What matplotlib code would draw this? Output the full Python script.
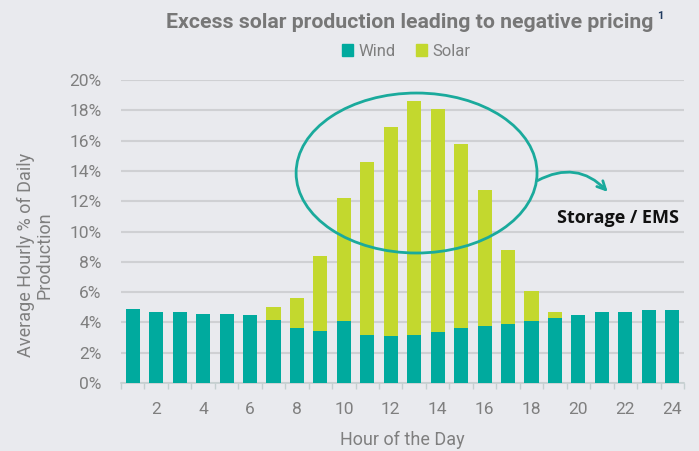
import numpy as np
import matplotlib.pyplot as plt
from matplotlib.patches import Ellipse, Patch

# Datos (% de la produccion diaria por hora)
hours = list(range(1, 25))
wind = [4.86, 4.71, 4.71, 4.58, 4.58, 4.51, 4.16, 3.61, 3.45, 4.09, 3.17, 3.10,
        3.17, 3.39, 3.61, 3.78, 3.87, 4.09, 4.31, 4.49, 4.71, 4.71, 4.84, 4.84]
total = [4.86, 4.71, 4.71, 4.58, 4.58, 4.51, 5.00, 5.59, 8.38, 12.21, 14.61, 16.90,
         18.64, 18.06, 15.78, 12.74, 8.78, 6.09, 4.71, 4.49, 4.71, 4.71, 4.84, 4.84]
solar = [t - w for t, w in zip(total, wind)]
yticks = [0, 2, 4, 6, 8, 10, 12, 14, 16, 18, 20]
xlabels = [2, 4, 6, 8, 10, 12, 14, 16, 18, 20, 22, 24]

bg = '#e9eaee'
teal = '#00aa9e'
lime = '#c3d82e'
grey = '#7f7f7f'
plt.rcParams['font.family'] = ['Roboto', 'DejaVu Sans']

fig = plt.figure(figsize=(6.99, 4.51), dpi=100, facecolor=bg)
ax = fig.add_axes([121 / 699, 68 / 451, 563 / 699, 303 / 451], facecolor=bg)

ax.bar(hours, wind, width=0.6, color=teal, zorder=3)
ax.bar(hours, solar, bottom=wind, width=0.6, color=lime, zorder=3)

ax.set_xlim(0.5, 24.5)
ax.set_ylim(0, 20)
ax.set_yticks(yticks)
ax.set_yticklabels([f'{v}%' for v in yticks], color=grey, fontsize=12.5)
ax.grid(axis='y', color='#cfd0d3', linewidth=1.5, zorder=0)
ax.tick_params(axis='y', length=0, pad=14)

# ticks en los limites de las barras, etiquetas en las horas pares
ax.set_xticks(np.arange(0.5, 25, 1))
ax.set_xticklabels([])
ax.set_xticks(xlabels, minor=True)
ax.set_xticklabels([str(h) for h in xlabels], minor=True, color=grey, fontsize=12.5)
ax.tick_params(axis='x', which='major', length=4, color='#c5cfd0', width=1)
ax.tick_params(axis='x', which='minor', length=0, pad=14)

for s in ['left', 'right', 'top']:
    ax.spines[s].set_visible(False)
ax.spines['bottom'].set_color('#c5cfd0')
ax.spines['bottom'].set_linewidth(1.2)

ax.set_xlabel('Hour of the Day', color=grey, fontsize=13, labelpad=10)
fig.text(35 / 699, 1 - 255 / 451, 'Average Hourly % of Daily\nProduction', rotation=90,
         ha='center', va='center', multialignment='center', color=grey, fontsize=13,
         linespacing=1.0)

# Titulo y leyenda
fig.text(410 / 699, 1 - 22 / 451, 'Excess solar production leading to negative pricing',
         ha='center', va='center', color='#777777', fontsize=15.3, fontweight='bold')
fig.text(657 / 699, 1 - 16 / 451, '1', ha='left', va='center', color='#1f3a5f',
         fontsize=8, fontweight='bold')
handles = [Patch(color=teal, label='Wind'), Patch(color=lime, label='Solar')]
leg = fig.legend(handles=handles, loc='center', bbox_to_anchor=(406 / 699, 1 - 51 / 451),
                 ncol=2, frameon=False, fontsize=12, handlelength=0.7, handleheight=0.7,
                 handletextpad=0.3, columnspacing=1.2)
for t in leg.get_texts():
    t.set_color(grey)

# Elipse y flecha
ax.add_patch(Ellipse((13.1, 13.86), 10.27, 10.56, fill=False, edgecolor='#1aaa9c',
                     linewidth=2, zorder=4))
ax.annotate('', xy=(21.33, 12.48), xytext=(18.15, 13.27),
            arrowprops=dict(arrowstyle='->', color='#1aaa9c', lw=2,
                            connectionstyle='arc3,rad=-0.4', mutation_scale=15))
ax.text(19.09, 10.9, 'Storage / EMS', ha='left', va='center', fontsize=13,
        fontweight='bold', color='#111111', zorder=5, family=['Open Sans', 'DejaVu Sans'])

fig.savefig('out.png', dpi=100, facecolor=bg)
